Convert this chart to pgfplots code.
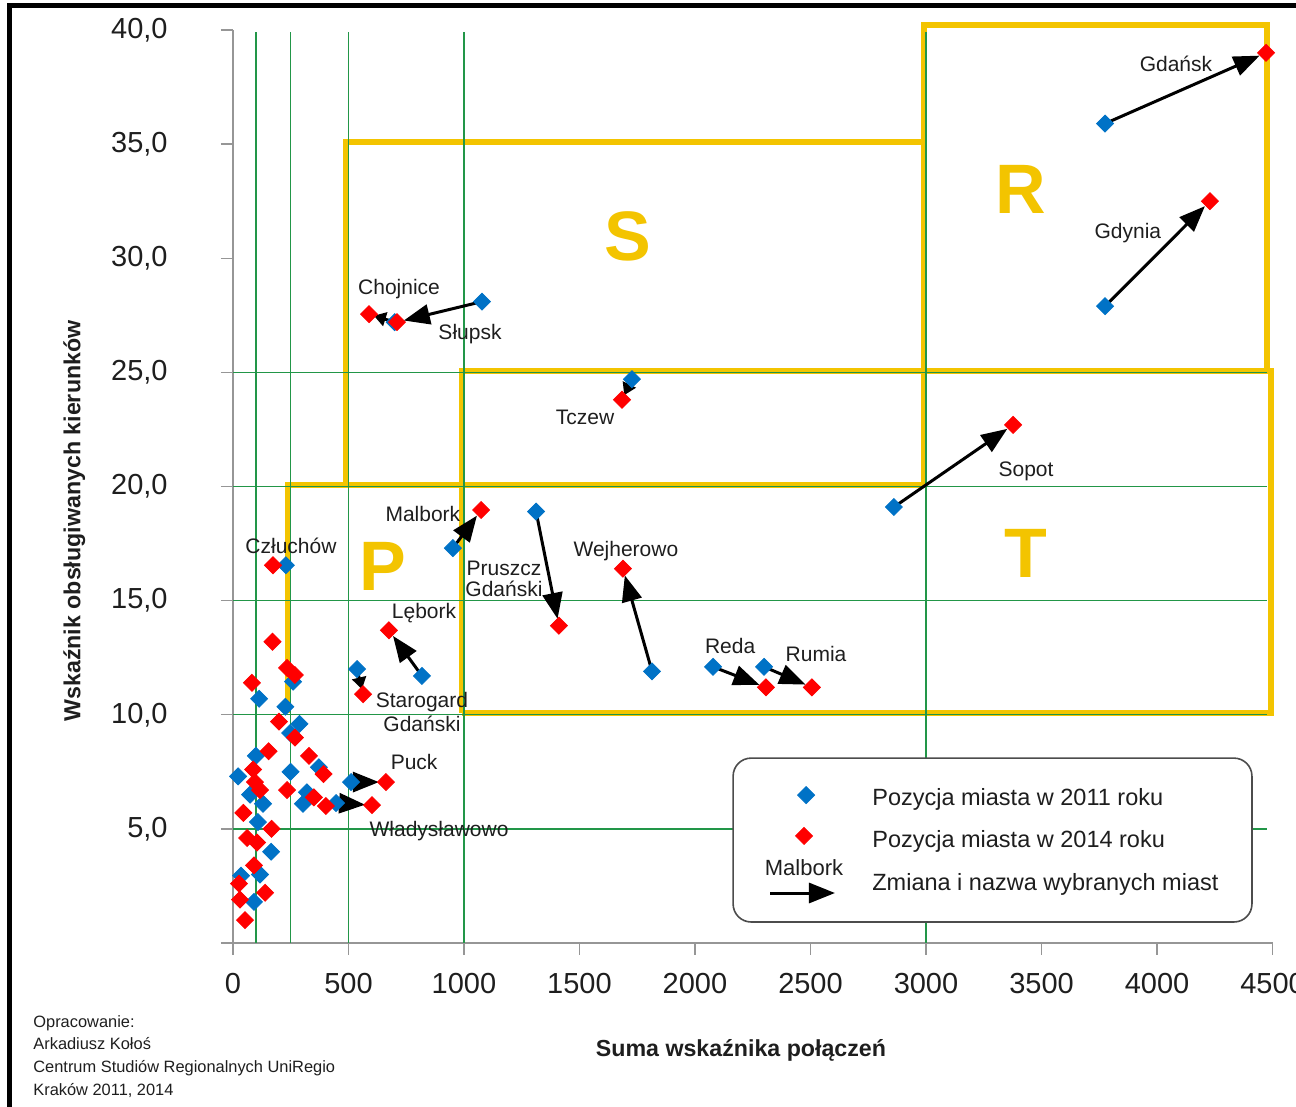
\documentclass[border=0pt]{standalone}
\usepackage{fontspec}
\setmainfont{Liberation Sans}
\usepackage{pgfplots}
\usepackage{pgfplotstable}
\pgfplotsset{compat=1.18}
\usetikzlibrary{arrows.meta}
\definecolor{gblue}{RGB}{0,114,198}
\definecolor{gred}{RGB}{255,0,0}
\definecolor{gyel}{RGB}{243,196,0}
\definecolor{ggreen}{RGB}{34,150,72}
\definecolor{axgray}{RGB}{150,150,150}
\definecolor{txt}{RGB}{30,30,30}

\tikzset{
  lab/.style={font=\fontsize{10.5}{11}\selectfont, text=txt, inner sep=0pt, text height=7.5pt, text depth=0pt},
  big/.style={font=\fontsize{35}{35}\selectfont\bfseries, text=gyel, inner sep=0pt, text height=25pt, text depth=0pt},
  leg/.style={font=\fontsize{11.75}{12}\selectfont, text=txt, inner sep=0pt, anchor=west, text height=8.4pt, text depth=0pt},
  arr/.style={black, line width=1.5pt, -{Triangle[length=13pt,width=10pt]}, shorten >=3.5pt},
  sarr/.style={black, line width=1.5pt, -{Triangle[length=6pt,width=7pt]}, shorten >=2.5pt},
  note/.style={font=\fontsize{8.2}{9}\selectfont, text=txt, inner sep=0pt, anchor=west, text height=5.9pt, text depth=0pt},
}

% 2011 positions
\pgfplotstableread{
x y
3775 35.9
3775 27.9
2861 19.1
1727 24.7
1078 28.1
700 27.2
952 17.3
1312 18.9
1814 11.9
2078 12.1
2299 12.1
818 11.7
537 12.0
229 16.55
511 7.05
446 6.13
22 7.3
74 6.5
130 6.1
99 8.2
113 10.7
227 10.35
288 9.6
247 9.2
260 11.45
249 7.5
320 6.6
303 6.1
372 7.7
108 5.3
165 4.0
117 3.0
35 2.95
91 1.8
}\blueA

% 2014 positions
\pgfplotstableread{
x y
4472 39.0
4229 32.5
3377 22.7
1684 23.8
710 27.2
589 27.55
1074 18.97
1411 13.9
1688 16.4
2307 11.2
2506 11.2
675 13.7
563 10.9
173 16.55
662 7.05
602 6.04
171 13.2
234 12.05
268 11.74
82 11.4
199 9.7
268 9.0
154 8.4
329 8.2
392 7.4
87 7.6
95 7.05
117 6.7
234 6.7
350 6.38
402 6.0
45 5.7
167 5.0
61 4.6
104 4.4
91 3.4
26 2.6
139 2.2
30 1.9
52 1.0
}\redB

\begin{document}
\begin{tikzpicture}[x=1pt,y=1pt]
\useasboundingbox (0,0) rectangle (648,553.5);
\begin{axis}[
  at={(116.5pt,82pt)}, anchor=south west,
  scale only axis, width=519.75pt, height=456.5pt,
  xmin=0, xmax=4500, ymin=0, ymax=40,
  clip=false,
  axis lines*=left,
  axis line style={axgray, line width=0.7pt},
  tick align=outside, major tick length=6pt,
  tick style={axgray, line width=0.7pt},
  xtick={0,500,...,4500}, ytick={5,10,...,40},
  extra y ticks={0}, extra y tick labels={},
  scaled x ticks=false,
  /pgf/number format/assume math mode=true,
  tick label style={font=\fontsize{14.5}{15}\selectfont, text=txt},
  xticklabel style={/pgf/number format/1000 sep={}, inner sep=0pt, anchor=north, yshift=-9pt},
  yticklabel style={/pgf/number format/.cd, fixed, fixed zerofill, precision=1, use comma, /tikz/.cd, inner sep=0pt, anchor=east, xshift=-26.5pt},
]
% yellow region boxes
\addplot[gyel, line width=3pt, forget plot] coordinates {(990,10.08) (4492,10.08) (4492,25.08) (990,25.08) (990,10.08)};
\addplot[gyel, line width=3pt, forget plot] coordinates {(2990,25.08) (2990,40.2) (4476,40.2) (4476,25.08)};
\addplot[gyel, line width=3pt, forget plot] coordinates {(490,20.08) (490,35.08) (2990,35.08) (2990,20.08) (490,20.08)};
\addplot[gyel, line width=3pt, forget plot] coordinates {(240,10.08) (240,20.08) (990,20.08)};
% green grid
\addplot[ggreen, line width=0.7pt, forget plot] coordinates {(100,0) (100,39.9)};
\addplot[ggreen, line width=0.7pt, forget plot] coordinates {(250,0) (250,39.9)};
\addplot[ggreen, line width=0.7pt, forget plot] coordinates {(500,0) (500,39.9)};
\addplot[ggreen, line width=0.7pt, forget plot] coordinates {(1000,0) (1000,39.9)};
\addplot[ggreen, line width=0.7pt, forget plot] coordinates {(3000,0) (3000,39.9)};
\addplot[ggreen, line width=0.7pt, forget plot] coordinates {(0,5) (4476,5)};
\addplot[ggreen, line width=0.7pt, forget plot] coordinates {(0,10) (4476,10)};
\addplot[ggreen, line width=0.7pt, forget plot] coordinates {(0,15) (4476,15)};
\addplot[ggreen, line width=0.7pt, forget plot] coordinates {(0,20) (4476,20)};
\addplot[ggreen, line width=0.7pt, forget plot] coordinates {(0,25) (4476,25)};
% big letters
\node[big] at (649,16.56) {P};
\node[big] at (1710,31.0) {S};
\node[big] at (3411,33.07) {R};
\node[big] at (3433,17.1) {T};
% legend box
\draw[rounded corners=9pt, fill=white, draw=black!70, line width=0.8pt] (2165,8.10) rectangle (4411,0.92);
% arrows
\addplot[arr, forget plot] coordinates {(3775,35.9) (4472,39.0)};
\addplot[arr, forget plot] coordinates {(3775,27.9) (4229,32.5)};
\addplot[arr, forget plot] coordinates {(2861,19.1) (3377,22.7)};
\addplot[sarr, forget plot] coordinates {(1727,24.7) (1684,23.8)};
\addplot[arr, forget plot] coordinates {(1078,28.1) (710,27.2)};
\addplot[sarr, forget plot] coordinates {(700,27.2) (589,27.55)};
\addplot[arr, forget plot] coordinates {(952,17.3) (1074,18.97)};
\addplot[arr, forget plot] coordinates {(1312,18.9) (1411,13.9)};
\addplot[arr, forget plot] coordinates {(1814,11.9) (1688,16.4)};
\addplot[arr, forget plot] coordinates {(2078,12.1) (2307,11.2)};
\addplot[arr, forget plot] coordinates {(2299,12.1) (2506,11.2)};
\addplot[arr, forget plot] coordinates {(818,11.7) (675,13.7)};
\addplot[sarr, forget plot] coordinates {(537,12.0) (563,10.9)};
\addplot[arr, forget plot] coordinates {(511,7.05) (662,7.05)};
\addplot[arr, forget plot] coordinates {(446,6.13) (602,6.04)};
% points
\addplot[gblue, only marks, mark=square*, mark size=3.0pt, mark options={rotate=45, fill=gblue, draw=gblue}] table {\blueA};
\addplot[gred, only marks, mark=square*, mark size=3.0pt, mark options={rotate=45, fill=gred, draw=gred}] table {\redB};
% legend content
\addplot[gblue, only marks, mark=square*, mark size=3.0pt, mark options={rotate=45, fill=gblue, draw=gblue}, forget plot] coordinates {(2481,6.48)};
\addplot[gred, only marks, mark=square*, mark size=3.0pt, mark options={rotate=45, fill=gred, draw=gred}, forget plot] coordinates {(2472,4.69)};
\addplot[black, line width=1.5pt, -{Triangle[length=13pt,width=10pt]}, forget plot] coordinates {(2325,2.19) (2606,2.19)};
\node[lab, font=\fontsize{11}{11}\selectfont] at (2472,3.28) {Malbork};
\node[leg] at (2766,6.4) {Pozycja miasta w 2011 roku};
\node[leg] at (2766,4.56) {Pozycja miasta w 2014 roku};
\node[leg] at (2766,2.67) {Zmiana i nazwa wybranych miast};
% city labels
\node[lab] at (4082,38.5) {Gdańsk};
\node[lab] at (3874,31.2) {Gdynia};
\node[lab] at (719,28.75) {Chojnice};
\node[lab] at (1026,26.75) {Słupsk};
\node[lab] at (1524,23.05) {Tczew};
\node[lab] at (3433,20.75) {Sopot};
\node[lab] at (822,18.8) {Malbork};
\node[lab] at (251,17.4) {Człuchów};
\node[lab] at (1701,17.25) {Wejherowo};
\node[lab] at (1173,16.45) {Pruszcz};
\node[lab] at (1173,15.5) {Gdański};
\node[lab] at (827,14.55) {Lębork};
\node[lab] at (2152,13.0) {Reda};
\node[lab] at (2524,12.66) {Rumia};
\node[lab] at (818,10.64) {Starogard};
\node[lab] at (818,9.59) {Gdański};
\node[lab] at (784,7.93) {Puck};
\node[lab] at (892,4.99) {Władysławowo};
\end{axis}
% frame (top and left)
\draw[line width=2.5pt, black] (4.75,0) -- (4.75,550.5) -- (648,550.5);
% axis titles
\node[font=\fontsize{11.6}{12}\selectfont\bfseries, text=txt, inner sep=0pt, text height=8.3pt, text depth=0pt] at (370.5,29.5) {Suma wskaźnika połączeń};
\node[font=\fontsize{11.6}{12}\selectfont\bfseries, text=txt, inner sep=0pt, text height=8.3pt, text depth=0pt, rotate=90] at (36,293) {Wskaźnik obsługiwanych kierunków};
% source note
\node[note] at (16.5,42.5) {Opracowanie:};
\node[note] at (16.5,31.5) {Arkadiusz Kołoś};
\node[note] at (16.5,20) {Centrum Studiów Regionalnych UniRegio};
\node[note] at (16.5,8.5) {Kraków 2011, 2014};
\end{tikzpicture}
\end{document}
